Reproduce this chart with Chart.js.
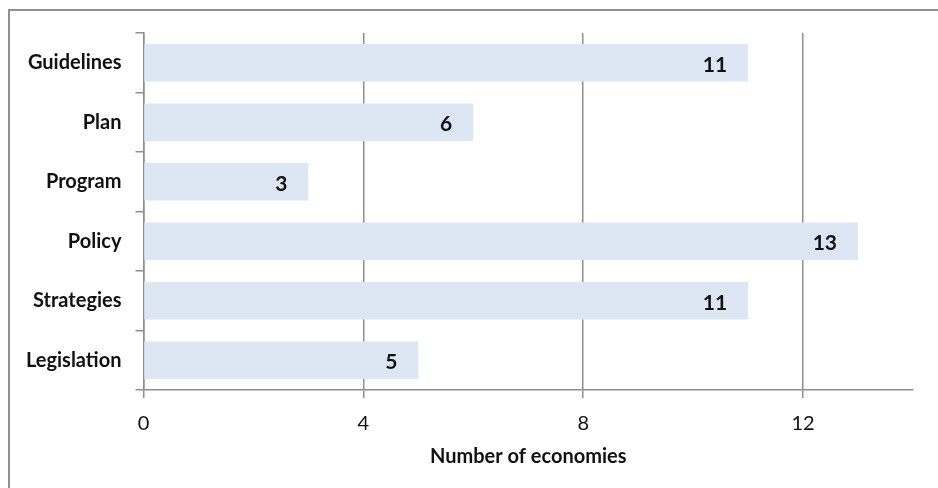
<!DOCTYPE html>
<html>
<head>
<meta charset="utf-8">
<script src="https://cdn.jsdelivr.net/npm/chart.js@4.4.1/dist/chart.umd.min.js"></script>
<style>
    html, body { margin: 0; padding: 0; background: #fff; }
    #wrap { position: relative; width: 938px; height: 488px; }
    #frame {
        position: absolute; left: 8px; top: 9px; right: -4px; bottom: -4px;
        border-top: 2px solid #8f8f8f; border-left: 2px solid #8f8f8f;
    }
    canvas { position: absolute; left: 0; top: 0; }
</style>
</head>
<body>
<div id="wrap">
    <div id="frame"></div>
    <canvas id="chart" width="938" height="488"></canvas>
</div>
<script>
// Chart data
const categories = ['Guidelines', 'Plan', 'Program', 'Policy', 'Strategies', 'Legislation'];
const economies = [11, 6, 3, 13, 11, 5];
const xTicks = [0, 4, 8, 12];

const FONT = "Lato, 'Open Sans', sans-serif";
const LINE = '#8f8f8f';

// Draw the value label inside the end of each bar
const barLabels = {
    id: 'barLabels',
    afterDatasetsDraw(chart) {
        const ctx = chart.ctx;
        const meta = chart.getDatasetMeta(0);
        ctx.save();
        ctx.font = 'bold 21px ' + FONT;
        ctx.fillStyle = '#111';
        ctx.textAlign = 'right';
        ctx.textBaseline = 'middle';
        meta.data.forEach((bar, i) => {
            ctx.fillText(String(economies[i]), bar.x - 21, bar.y + 2);
        });
        ctx.restore();
    }
};

new Chart(document.getElementById('chart'), {
    type: 'bar',
    data: {
        labels: categories,
        datasets: [{
            data: economies,
            backgroundColor: '#dde6f3',
            borderWidth: 0,
            barPercentage: 0.63,
            categoryPercentage: 1
        }]
    },
    options: {
        indexAxis: 'y',
        responsive: false,
        animation: false,
        layout: { padding: { top: 33, right: 25, bottom: 18, left: 0 } },
        plugins: {
            legend: { display: false },
            tooltip: { enabled: false }
        },
        scales: {
            x: {
                min: 0,
                max: 14,
                afterBuildTicks(scale) {
                    scale.ticks = xTicks.map(v => ({ value: v }));
                },
                afterFit(scale) { scale.height = 80; },
                grid: {
                    color: LINE,
                    lineWidth: 1.5,
                    tickLength: 8
                },
                border: { color: LINE, width: 1.5 },
                ticks: {
                    color: '#111',
                    padding: 14,
                    font: { family: FONT, size: 20 }
                },
                title: {
                    display: true,
                    text: 'Number of economies',
                    color: '#111',
                    padding: { top: 0, bottom: 1 },
                    font: { family: FONT, size: 20, weight: 'bold' }
                }
            },
            y: {
                afterFit(scale) { scale.width = 143.5; },
                grid: {
                    drawOnChartArea: false,
                    color: LINE,
                    lineWidth: 1.5,
                    tickLength: 8
                },
                border: { color: LINE, width: 1.5 },
                ticks: {
                    color: '#111',
                    padding: 14,
                    font: { family: FONT, size: 20, weight: 'bold' }
                }
            }
        }
    },
    plugins: [barLabels]
});
</script>
</body>
</html>
